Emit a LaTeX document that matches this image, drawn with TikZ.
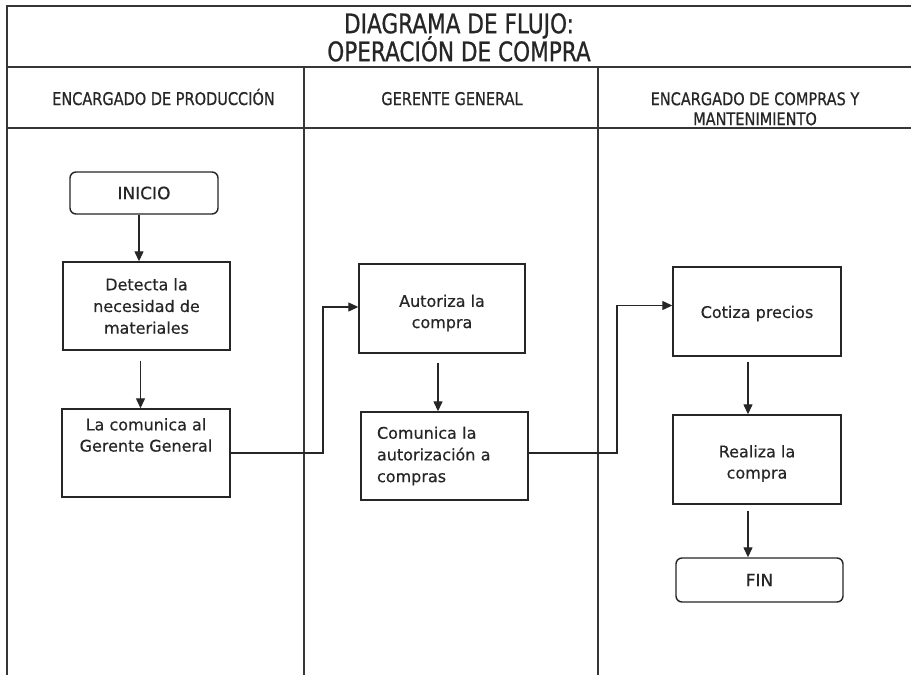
\documentclass[tikz,border=0pt]{standalone}
\usepackage{fontspec}
\setmainfont[FakeBold=0.4]{DejaVu Sans}
\newfontfamily\titlefont[FakeStretch=0.80,FakeBold=0.7]{DejaVu Sans}
\newfontfamily\headfont[FakeStretch=0.83,FakeBold=0.6]{DejaVu Sans}
\newcommand\titlesetup{\titlefont\fontsize{27}{28}\selectfont\lineskiplimit=-30pt\relax}
\usetikzlibrary{arrows.meta,calc}
\definecolor{ink}{HTML}{262626}
\definecolor{rule}{HTML}{363636}
\begin{document}
\begin{tikzpicture}[x=1pt,y=-1pt,
  frameline/.style={draw=rule,line width=1.2pt},
  proc/.style={draw=ink,line width=1.4pt,minimum width=167pt,minimum height=88pt,
    align=center,inner sep=0pt,text=ink,font=\fontsize{16}{21.7}\selectfont},
  term/.style={draw=ink,line width=1.4pt,rounded corners=6pt,minimum height=42pt,
    inner sep=0pt,text=ink,font=\fontsize{17}{20}\selectfont},
  boxtext/.style={align=center,inner sep=0pt,text=ink,font=\fontsize{16}{21.2}\selectfont},
  head/.style={inner sep=0pt,text=ink,align=center,font=\headfont\fontsize{17.5}{20}\selectfont},
  arr/.style={draw=ink,line width=1.3pt,-{Triangle[length=10pt,width=9pt]}},
  conn/.style={draw=ink,line width=1.2pt,-{Triangle[length=10pt,width=9pt]}}
]
\useasboundingbox (0,0) rectangle (911,675);
\fill[white] (0,0) rectangle (911,675);

% frame and lanes
\draw[frameline] (7,675) -- (7,6) -- (911,6);
\draw[frameline] (7,67) -- (911,67);
\draw[frameline] (7,128) -- (911,128);
\draw[frameline] (304,67) -- (304,675);
\draw[frameline] (598,67) -- (598,675);

% title
\node[inner sep=0pt,anchor=north,align=center,text=ink,font=\titlesetup] (title) at (459,13)
  {DIAGRAMA DE FLUJO:\\OPERACIÓN DE COMPRA};

% headers
\node[head,anchor=base] (h1) at (163.5,105) {ENCARGADO DE PRODUCCIÓN};
\node[head,anchor=base] (h2) at (452,105) {GERENTE GENERAL};
\node[head,anchor=north] (h3) at (755,92) {ENCARGADO DE COMPRAS Y\\MANTENIMIENTO};

% lane 1
\node[term,minimum width=148pt] (inicio) at (144,193) {INICIO};
\node[proc,font=\fontsize{16}{21.7}\selectfont] (detecta) at (146.5,306) {Detecta la\\necesidad de\\materiales};
\node[proc,minimum width=168pt] (comunica) at (146,453) {};
\node[boxtext,anchor=north] (comunicatxt) at (146,418) {La comunica al\\Gerente General};

% lane 2
\node[proc,minimum width=166pt,minimum height=89pt] (autoriza) at (442,308.5) {};
\node[boxtext] (autorizatxt) at (442,313) {Autoriza la\\compra};
\node[proc,text width=135pt,align=left,inner xsep=16pt,minimum height=88pt] (autcomp) at (444.5,456)
  {Comunica la\\autorización a\\compras};

% lane 3
\node[proc,minimum width=168pt,minimum height=89pt] (cotiza) at (757,311.5) {};
\node[boxtext] (cotizatxt) at (757,313.5) {Cotiza precios};
\node[proc,minimum width=168pt,minimum height=89pt] (realiza) at (757,459.5) {};
\node[boxtext] (realizatxt) at (757,463.5) {Realiza la\\compra};
\node[term,minimum width=167pt,minimum height=44pt] (fin) at (759.5,580) {FIN};

% bend coordinates
\coordinate (b1) at (323,0);
\coordinate (b2) at (617,0);

% vertical arrows
\draw[arr] ([xshift=-5pt]inicio.south) -- ([xshift=-5pt]inicio.south |- detecta.north);
\draw[arr] ([xshift=-6pt,yshift=-10pt]detecta.south) -- ([xshift=-6pt]detecta.south |- comunica.north);
\draw[arr] ([xshift=-4pt,yshift=-9pt]autoriza.south) -- ([xshift=-4pt]autoriza.south |- autcomp.north);
\draw[arr] ([xshift=-9pt,yshift=-5pt]cotiza.south) -- ([xshift=-9pt]cotiza.south |- realiza.north);
\draw[arr] ([xshift=-9pt,yshift=-6pt]realiza.south) -- ([xshift=-9pt]realiza.south |- fin.north);

% lane-crossing connectors
\draw[conn] (comunica.east) -- (comunica.east -| b1) |- ([yshift=1.5pt]autoriza.west);
\draw[conn] ([yshift=3pt]autcomp.east) -- ([yshift=3pt]autcomp.east -| b2) |- ([yshift=6pt]cotiza.west);
\end{tikzpicture}
\end{document}
